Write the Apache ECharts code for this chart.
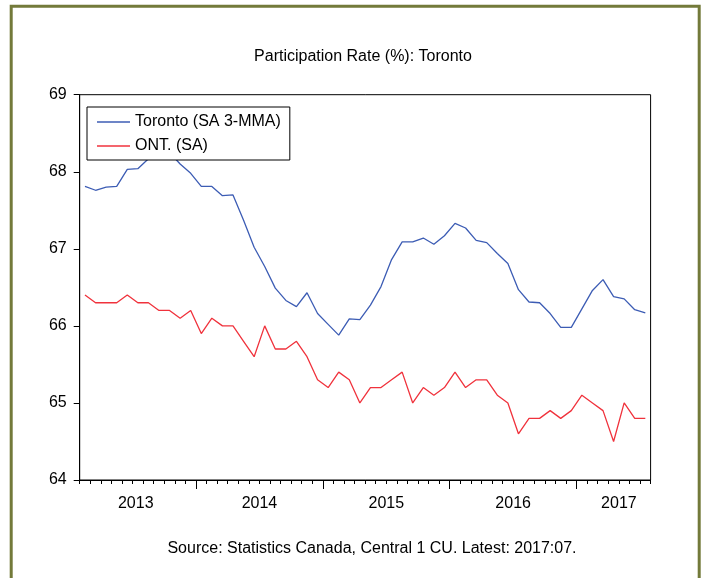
<!DOCTYPE html>
<html>
<head>
<meta charset="utf-8">
<script src="https://cdn.jsdelivr.net/npm/echarts@6/dist/echarts.min.js"></script>
<style>
  html, body { margin: 0; padding: 0; background: #fff; }
  #chart { width: 704px; height: 578px; }
</style>
</head>
<body>
<div id="chart"></div>
<script>
// monthly, 2013:02 .. 2017:07
const startYear = 2013, startMonth = 2, nMonths = 54
const months = []
for (let i = 0; i < nMonths; i++) {
  const m = startMonth - 1 + i
  months.push((startYear + Math.floor(m / 12)) + ':' + String(m % 12 + 1).padStart(2, '0'))
}

const toronto = [
  67.81, 67.76, 67.80, 67.81, 68.03, 68.04, 68.17, 68.28, 68.25, 68.10,
  67.98, 67.81, 67.81, 67.69, 67.70, 67.37, 67.02, 66.77, 66.49, 66.33,
  66.25, 66.43, 66.16, 66.02, 65.88, 66.09, 66.08, 66.27, 66.51, 66.86,
  67.09, 67.09, 67.14, 67.06, 67.17, 67.33, 67.27, 67.11, 67.08, 66.94,
  66.81, 66.47, 66.31, 66.30, 66.16, 65.98, 65.98, 66.22, 66.46, 66.60,
  66.38, 66.35, 66.21, 66.17
]

const ontario = [
  66.4, 66.3, 66.3, 66.3, 66.4, 66.3, 66.3, 66.2, 66.2, 66.1,
  66.2, 65.9, 66.1, 66.0, 66.0, 65.8, 65.6, 66.0, 65.7, 65.7,
  65.8, 65.6, 65.3, 65.2, 65.4, 65.3, 65.0, 65.2, 65.2, 65.3,
  65.4, 65.0, 65.2, 65.1, 65.2, 65.4, 65.2, 65.3, 65.3, 65.1,
  65.0, 64.6, 64.8, 64.8, 64.9, 64.8, 64.9, 65.1, 65.0, 64.9,
  64.5, 65.0, 64.8, 64.8
]

// year boundaries (in months from the start) and label positions
const yearBounds = [11, 23, 35, 47]
const yearLabels = ['2013', '2014', '2015', '2016', '2017']
const yearLabelPos = [5.3, 17, 29, 41, 51]

const chart = echarts.init(document.getElementById('chart'))

function toPoints(arr) {
  return arr.map(function (v, i) { return [i + 0.5, v] })
}

const font = 'Liberation Sans'

chart.setOption({
  animation: false,
  graphic: [
    {
      type: 'rect',
      shape: { x: 11.2, y: 6.3, width: 688, height: 620 },
      style: { fill: 'none', stroke: '#737a3a', lineWidth: 3 },
      silent: true
    },
    {
      type: 'text', x: 363, y: 57,
      style: {
        text: 'Participation Rate (%): Toronto',
        fontFamily: font, fontSize: 16, fill: '#000',
        align: 'center', verticalAlign: 'middle'
      }
    },
    {
      type: 'text', x: 372, y: 549,
      style: {
        text: 'Source: Statistics Canada, Central 1 CU. Latest: 2017:07.',
        fontFamily: font, fontSize: 16, fill: '#000',
        align: 'center', verticalAlign: 'middle'
      }
    }
  ],
  grid: {
    left: 79.7, right: 53.4, top: 94.7, bottom: 98,
    show: true, borderColor: '#000', borderWidth: 1, backgroundColor: '#fff'
  },
  legend: {
    orient: 'vertical',
    left: 87, top: 107,
    padding: [7, 9, 6, 10],
    icon: 'rect',
    itemWidth: 33, itemHeight: 1.3, itemGap: 8,
    borderColor: '#000', borderWidth: 1,
    backgroundColor: '#fff',
    textStyle: { fontFamily: font, fontSize: 16, lineHeight: 14, color: '#000' },
    data: ['Toronto (SA 3-MMA)', 'ONT. (SA)']
  },
  xAxis: [
    {
      type: 'value', min: 0, max: nMonths, interval: 1,
      axisLine: { lineStyle: { color: '#000', width: 1 } },
      axisTick: { length: 4, lineStyle: { color: '#000' } },
      axisLabel: { show: false },
      splitLine: { show: false }
    },
    {
      type: 'value', min: 0, max: nMonths, interval: 1, position: 'bottom',
      axisLine: { show: false },
      axisTick: { length: 9, customValues: yearBounds, lineStyle: { color: '#000' } },
      axisLabel: {
        customValues: yearLabelPos,
        margin: 16,
        fontFamily: font, fontSize: 16, color: '#000',
        formatter: function (v) {
          let best = 0
          for (let i = 1; i < yearLabelPos.length; i++) {
            if (Math.abs(yearLabelPos[i] - v) < Math.abs(yearLabelPos[best] - v)) best = i
          }
          return yearLabels[best]
        }
      },
      splitLine: { show: false }
    }
  ],
  yAxis: {
    type: 'value', min: 64, max: 69, interval: 1,
    axisLine: { show: true, lineStyle: { color: '#000', width: 1 } },
    axisTick: { show: true, length: 6, lineStyle: { color: '#000' } },
    axisLabel: { margin: 13, fontFamily: font, fontSize: 16, color: '#000' },
    splitLine: { show: false }
  },
  series: [
    {
      name: 'Toronto (SA 3-MMA)', type: 'line',
      data: toPoints(toronto),
      symbol: 'none', z: 2,
      lineStyle: { color: '#3c5cb4', width: 1.3 },
      itemStyle: { color: '#3c5cb4' }
    },
    {
      name: 'ONT. (SA)', type: 'line',
      data: toPoints(ontario),
      symbol: 'none', z: 2,
      lineStyle: { color: '#f0323c', width: 1.3 },
      itemStyle: { color: '#f0323c' }
    }
  ]
})
</script>
</body>
</html>
